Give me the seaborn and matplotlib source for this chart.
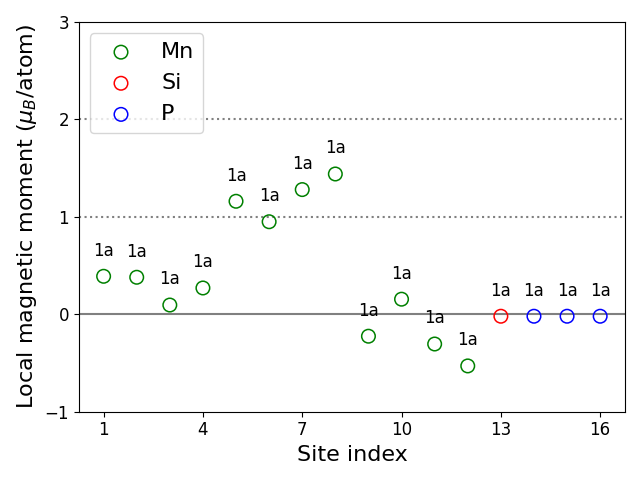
import matplotlib
matplotlib.use("Agg")
import matplotlib.pyplot as plt
import seaborn as sns
import pandas as pd

site_index = list(range(1, 17))
moments = [0.39, 0.38, 0.095, 0.27, 1.16, 0.95, 1.28, 1.44,
           -0.225, 0.155, -0.305, -0.53, -0.02, -0.02, -0.02, -0.02]
elements = ["Mn"] * 12 + ["Si"] + ["P"] * 3
wyckoff = ["1a"] * 16
element_colors = {"Mn": "green", "Si": "red", "P": "blue"}

df = pd.DataFrame({"site": site_index, "moment": moments,
                   "element": elements, "label": wyckoff})

sns.set_style("ticks", rc={"text.color": "black", "axes.labelcolor": "black",
                           "xtick.color": "black", "ytick.color": "black",
                           "axes.edgecolor": "black"})
plt.rcParams["font.family"] = ["DejaVu Sans"]
fig, ax = plt.subplots(figsize=(6.4, 4.8), dpi=100)

ax.axhline(0, color="gray", lw=1.5, zorder=1)
ax.axhline(1, color="gray", ls=":", lw=1.5, zorder=1)
ax.axhline(2, color="gray", ls=":", lw=1.5, zorder=1)

for el in ["Mn", "Si", "P"]:
    sub = df[df["element"] == el]
    n0 = len(ax.collections)
    sns.scatterplot(data=sub, x="site", y="moment", ax=ax, marker="o", s=95,
                    color=element_colors[el], label=el, zorder=3)
    for c in ax.collections[n0:]:
        c.set_facecolor("none")
        c.set_edgecolor(element_colors[el])
        c.set_linewidth(1.1)

for x, y, t in zip(df["site"], df["moment"], df["label"]):
    ax.text(x, y + 0.17, t, ha="center", va="bottom", fontsize=12, color="black")

ax.set_xlim(0.25, 16.75)
ax.set_ylim(-1, 3)
ax.set_xticks([1, 4, 7, 10, 13, 16])
ax.set_yticks([-1, 0, 1, 2, 3])
ax.tick_params(labelsize=12, colors="black")
ax.set_xlabel("Site index", fontsize=16, color="black")
ax.set_ylabel(r"Local magnetic moment ($\mu_B$/atom)", fontsize=16, color="black")
for s in ax.spines.values():
    s.set_visible(True)
    s.set_color("black")
leg = ax.legend(loc="upper left", fontsize=16)
for t in leg.get_texts():
    t.set_color("black")
fig.tight_layout()
fig.savefig("out.png", dpi=100)
